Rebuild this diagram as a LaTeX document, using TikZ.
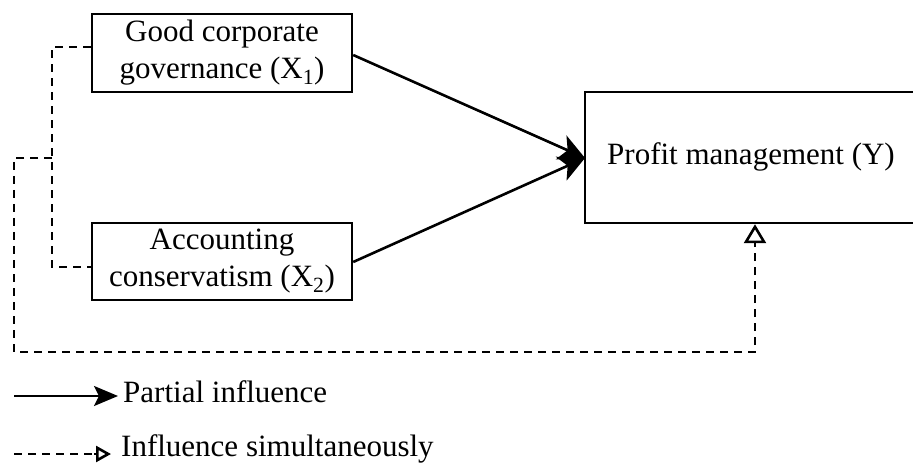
\documentclass[tikz,border=0pt]{standalone}
\usepackage{fontspec}
\setmainfont{Liberation Serif}
\usetikzlibrary{arrows.meta}
\begin{document}
\begin{tikzpicture}[x=1pt,y=-1pt,
  box/.style={draw,line width=2.4pt,align=center,inner sep=0pt,
    font=\fontsize{31}{37}\selectfont},
  solidarrow/.style={line width=2.6pt,-{Stealth[length=26pt,width=26pt,inset=7pt]}},
  dashline/.style={line width=2.6pt,dash pattern=on 8pt off 6pt},
  lbl/.style={anchor=west,inner sep=0pt,font=\fontsize{31}{37}\selectfont}]
\useasboundingbox (0,0) rectangle (913,465);
\node[box,minimum width=260pt,minimum height=78pt] (x1) at (222,53)
  {Good corporate\\governance (X\textsubscript{1})};
\node[box,minimum width=260pt,minimum height=77pt] (x2) at (222,261.5)
  {Accounting\\conservatism (X\textsubscript{2})};
\node[box,minimum width=345pt,minimum height=131pt,text width=345pt] (y) at (757.5,157.5) {};
\node[inner sep=0pt,font=\fontsize{31}{37}\selectfont] (yt) at (751,157) {Profit management (Y)};
\coordinate (tip) at (585,158);
\draw[solidarrow] (x1.east |- 0,55) -- (tip);
\draw[solidarrow] (x2.east |- 0,262) -- (tip);
\coordinate (a1) at (52,47);
\coordinate (mid) at (52,158);
\coordinate (a2) at (52,267);
\coordinate (b1) at (14,158);
\coordinate (b2) at (14,352);
\coordinate (b3) at (755,352);
\draw[dashline] (x1.west |- a1) -- (a1) -- (a2) -- (x2.west |- a2);
\draw[dashline] (mid) -- (b1) -- (b2) -- (b3) -- (755,245);
\draw[line width=2.6pt,-{Triangle[open,length=19pt,width=22pt]}] (755,245) -- (y.south -| b3);
% legend
\coordinate (l1) at (14,396);
\coordinate (l2) at (118,396);
\draw[line width=2.6pt,-{Stealth[length=24pt,width=20pt,inset=5pt]}] (l1) -- (l2);
\node[lbl] (t1) at (123,392) {Partial influence};
\coordinate (m1) at (14,454);
\coordinate (m2) at (111,454);
\draw[dashline] (m1) -- (95,454);
\draw[line width=2.6pt,-{Triangle[open,length=15pt,width=16pt]}] (94,454) -- (m2);
\node[lbl] (t2) at (121,449) {Influence simultaneously};
\end{tikzpicture}
\end{document}
